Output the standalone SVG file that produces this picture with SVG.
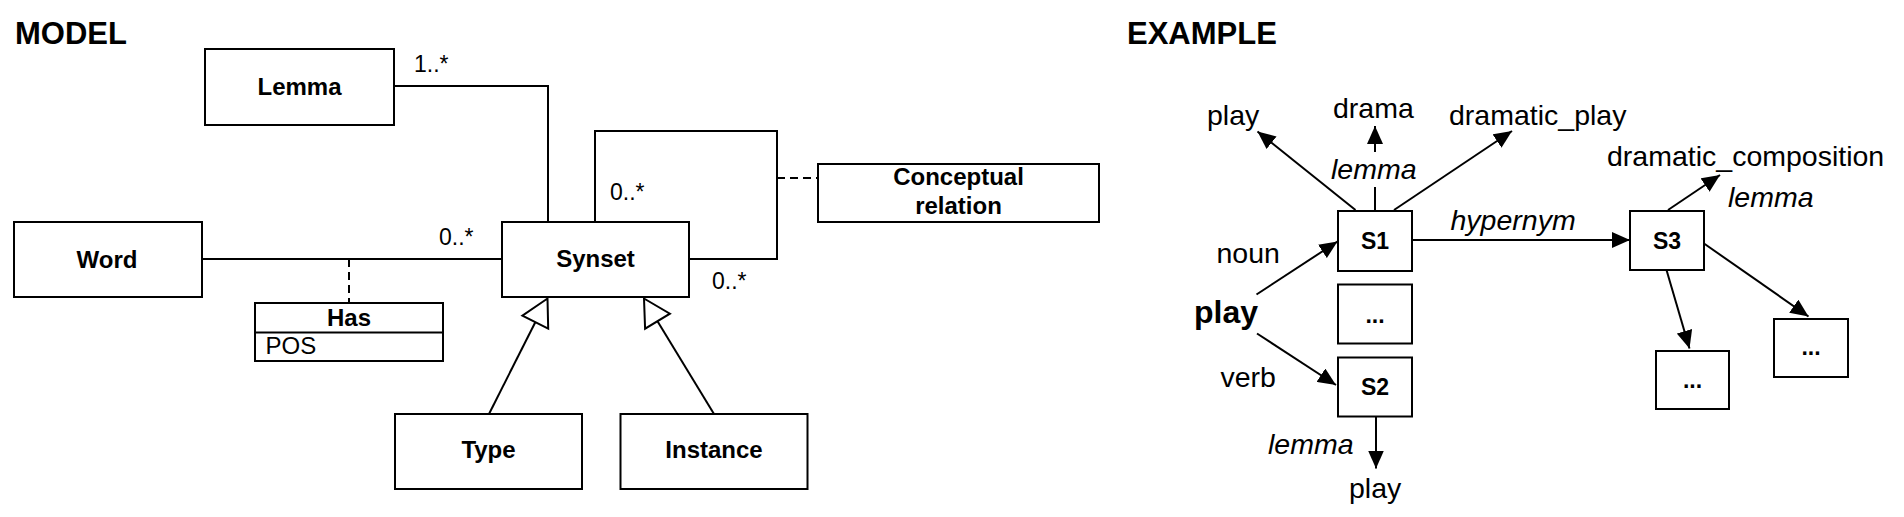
<svg xmlns="http://www.w3.org/2000/svg" width="1904" height="517" viewBox="0 0 1904 517">
<defs>
<style>
.box{fill:#fff;stroke:#000;stroke-width:2}
.ln{fill:none;stroke:#000;stroke-width:2}
.dash{fill:none;stroke:#000;stroke-width:2;stroke-dasharray:8,5}
.arr{fill:none;stroke:#000;stroke-width:2;marker-end:url(#ah)}
.gen{fill:#fff;stroke:#000;stroke-width:2;stroke-linejoin:miter}
.h{font-family:"Liberation Sans",Arial,sans-serif;font-weight:bold;font-size:31px}
.nb{font-family:"Liberation Sans",Arial,sans-serif;font-weight:bold;font-size:24px;text-anchor:middle}
.m{font-family:"Liberation Sans",Arial,sans-serif;font-size:23px}
.r{font-family:"Liberation Sans",Arial,sans-serif;font-size:24px}
.e{font-family:"Liberation Sans",Arial,sans-serif;font-size:28.5px}
.ei{font-family:"Liberation Sans",Arial,sans-serif;font-size:28.5px;font-style:italic}
.eb{font-family:"Liberation Sans",Arial,sans-serif;font-size:32px;font-weight:bold}
.sb{font-family:"Liberation Sans",Arial,sans-serif;font-size:23px;font-weight:bold;text-anchor:middle}
</style>
<marker id="ah" markerUnits="userSpaceOnUse" markerWidth="19" markerHeight="16" refX="18" refY="8" orient="auto">
<path d="M0,0 L18,8 L0,16 z" fill="#000"/>
</marker>
</defs>
<rect width="1904" height="517" fill="#fff"/>

<text class="h" x="15" y="44">MODEL</text>
<text class="h" x="1127" y="44">EXAMPLE</text>

<g id="model-connectors">
<path class="ln" d="M394,86 H548 V222"/>
<path class="ln" d="M202,259 H502"/>
<path class="dash" d="M349,259 V303"/>
<path class="ln" d="M595,222 V131 H777 V259 H689"/>
<path class="dash" d="M777,178 H818"/>
<path class="ln" d="M489,414 L535.3,322.2"/>
<polygon class="gen" points="547.5,298.5 548.2,328.7 522.4,315.7"/>
<path class="ln" d="M714,414 L657.5,321.2"/>
<polygon class="gen" points="644,298.5 669.9,313.7 645.1,328.7"/>
<text class="m" x="414" y="72">1..*</text>
<text class="m" x="439" y="245">0..*</text>
<text class="m" x="610" y="200">0..*</text>
<text class="m" x="712" y="289">0..*</text>
</g>

<g id="lemma"><rect class="box" x="205" y="49" width="189" height="76"/><text class="nb" x="299.5" y="95">Lemma</text></g>
<g id="word"><rect class="box" x="14" y="222" width="188" height="75"/><text class="nb" x="107" y="268">Word</text></g>
<g id="synset"><rect class="box" x="502" y="222" width="187" height="75"/><text class="nb" x="595.5" y="267">Synset</text></g>
<g id="conceptual-relation"><rect class="box" x="818" y="164" width="281" height="58"/><text class="nb" x="958.5" y="185">Conceptual</text><text class="nb" x="958.5" y="214">relation</text></g>
<g id="has"><rect class="box" x="255" y="303" width="188" height="58"/><path class="ln" d="M255,332.5 H443"/><text class="nb" x="349" y="326">Has</text><text class="r" x="265.5" y="354">POS</text></g>
<g id="type"><rect class="box" x="395" y="414" width="187" height="75"/><text class="nb" x="488.5" y="457.5">Type</text></g>
<g id="instance"><rect class="box" x="620.5" y="414" width="187" height="75"/><text class="nb" x="714" y="457.5">Instance</text></g>

<g id="example-connectors">
<path class="arr" d="M1355.5,210 L1257.5,131.5"/>
<path class="ln" d="M1375,210 V187"/>
<path class="arr" d="M1375,152 V126"/>
<path class="arr" d="M1394,210 L1512,131"/>
<path class="arr" d="M1412,240 H1630"/>
<path class="arr" d="M1256.5,294.5 L1337.5,241.5"/>
<path class="arr" d="M1257,333.5 L1336,385"/>
<path class="arr" d="M1376,416 V468.5"/>
<path class="arr" d="M1668,210 L1720,175"/>
<path class="arr" d="M1666.5,270 L1689.5,348.5"/>
<path class="arr" d="M1704,243.5 L1808.5,316.5"/>
<text class="e" x="1207" y="125">play</text>
<text class="e" x="1333" y="118">drama</text>
<text class="e" x="1449" y="125">dramatic_play</text>
<text class="ei" x="1331" y="179">lemma</text>
<text class="ei" x="1450.5" y="230">hypernym</text>
<text class="e" x="1216.5" y="263">noun</text>
<text class="eb" x="1194" y="323">play</text>
<text class="e" x="1220.5" y="386.5">verb</text>
<text class="ei" x="1268" y="453.5">lemma</text>
<text class="e" x="1349" y="498">play</text>
<text class="e" x="1607" y="166">dramatic_composition</text>
<text class="ei" x="1728" y="207">lemma</text>
</g>

<g id="s1"><rect class="box" x="1338" y="211" width="74" height="60"/><text class="sb" x="1375" y="248.5">S1</text></g>
<g id="s-dots"><rect class="box" x="1338" y="284.5" width="74" height="59"/><text class="sb" x="1375" y="322.5">...</text></g>
<g id="s2"><rect class="box" x="1338" y="357.5" width="74" height="59"/><text class="sb" x="1375" y="394.5">S2</text></g>
<g id="s3"><rect class="box" x="1630" y="211" width="74" height="59"/><text class="sb" x="1667" y="248.5">S3</text></g>
<g id="s3-dots-1"><rect class="box" x="1656" y="351" width="73" height="58"/><text class="sb" x="1692.5" y="388">...</text></g>
<g id="s3-dots-2"><rect class="box" x="1774" y="319" width="74" height="58"/><text class="sb" x="1811" y="355">...</text></g>
</svg>
